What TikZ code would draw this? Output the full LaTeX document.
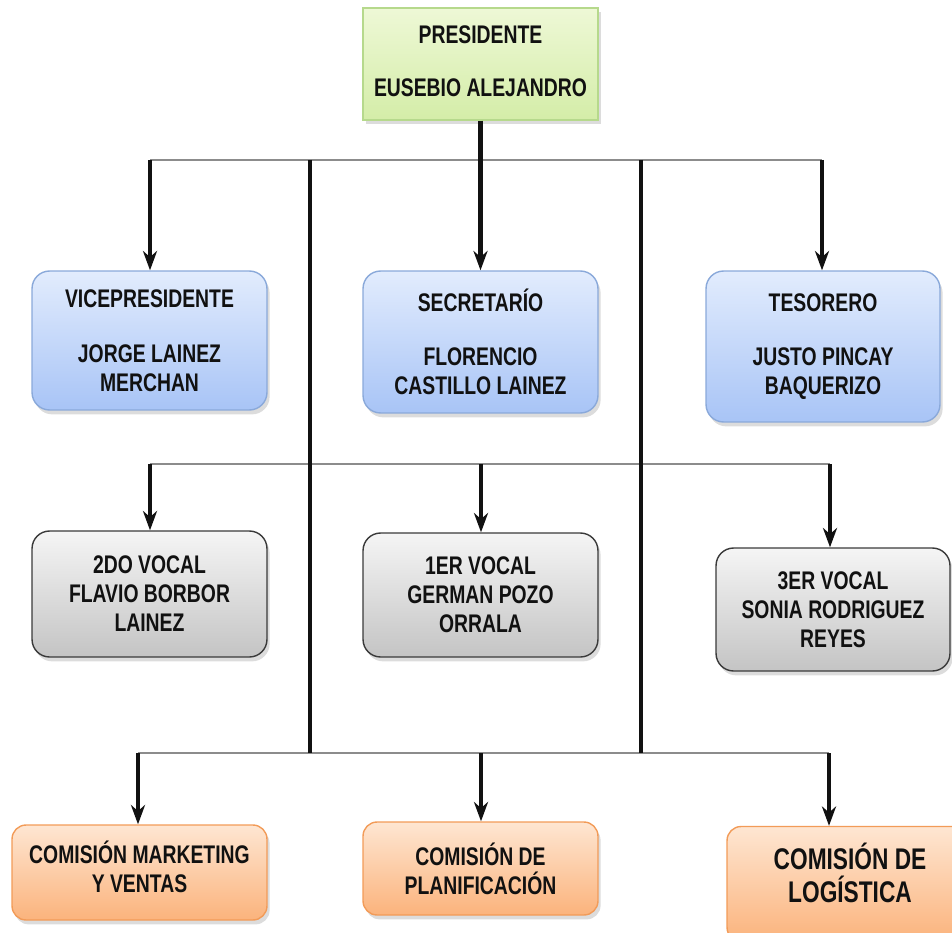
\documentclass[tikz,border=0pt]{standalone}
\usepackage{fontspec}
\setmainfont{Liberation Sans}[FakeStretch=0.76]
\usetikzlibrary{arrows.meta,shadows,calc}
\definecolor{ink}{HTML}{111111}
\definecolor{wire}{HTML}{8C8C8C}
\definecolor{greentop}{HTML}{EEF8D6}
\definecolor{greenbot}{HTML}{D4EDA8}
\definecolor{greenline}{HTML}{B6D98C}
\definecolor{bluetop}{HTML}{E2ECFD}
\definecolor{bluebot}{HTML}{A8C4F6}
\definecolor{blueline}{HTML}{8AA9DA}
\definecolor{greytop}{HTML}{F5F5F5}
\definecolor{greybot}{HTML}{C4C4C4}
\definecolor{greyline}{HTML}{3A3A3A}
\definecolor{orangetop}{HTML}{FEE6D2}
\definecolor{orangebot}{HTML}{FBB37C}
\definecolor{orangeline}{HTML}{F29B58}
\tikzset{
  box/.style={top color=#1top,bottom color=#1bot,draw=#1line,line width=0.8pt,
              rounded corners=10pt,align=center,text=ink,inner sep=2pt,
              font=\bfseries\fontsize{14.5}{16.5}\selectfont,
              drop shadow={shadow xshift=1.5pt,shadow yshift=-2.5pt,opacity=0.28}},
  box/.default=blue,
  head/.style={box=green,rounded corners=0pt},
  wire/.style={draw=wire,line width=1.6pt},
  trunk/.style={draw=ink,line width=2.3pt},
  arrow/.style={-{Stealth[length=11pt,width=8pt,inset=3.5pt]},line width=2.3pt,color=ink},
}
\begin{document}
\begin{tikzpicture}[x=0.02cm,y=-0.02cm]
    \useasboundingbox (0,0) rectangle (952,932);
    % Head
    \node[head,minimum width=4.70cm,minimum height=2.24cm,text depth=0.12cm] (pres) at (480.5,64)
      {PRESIDENTE\\[14pt]EUSEBIO ALEJANDRO};
    % Officers
    \node[box=blue,minimum width=4.70cm,minimum height=2.78cm] (vice) at (149.5,340.5)
      {VICEPRESIDENTE\\[14.5pt]JORGE LAINEZ\\MERCHAN};
    \node[box=blue,minimum width=4.70cm,minimum height=2.84cm] (secr) at (480.5,342)
      {SECRETARÍO\\[14.5pt]FLORENCIO\\CASTILLO LAINEZ};
    \node[box=blue,minimum width=4.68cm,minimum height=3.02cm] (teso) at (823,346.5)
      {TESORERO\\[14.5pt]JUSTO PINCAY\\BAQUERIZO};
    % Vocals
    \node[box=grey,minimum width=4.70cm,minimum height=2.52cm] (voc2) at (149.5,594)
      {2DO VOCAL\\FLAVIO BORBOR\\LAINEZ};
    \node[box=grey,minimum width=4.70cm,minimum height=2.48cm] (voc1) at (480.5,595)
      {1ER VOCAL\\GERMAN POZO\\ORRALA};
    \node[box=grey,minimum width=4.68cm,minimum height=2.46cm] (voc3) at (833,609.5)
      {3ER VOCAL\\SONIA RODRIGUEZ\\REYES};
    % Commissions
    \node[box=orange,rounded corners=8pt,minimum width=5.10cm,minimum height=1.90cm,text depth=0.25cm] (com1) at (139.5,872.5)
      {COMISIÓN MARKETING\\Y VENTAS};
    \node[box=orange,rounded corners=8pt,minimum width=4.70cm,minimum height=1.86cm] (com2) at (480.5,868.5)
      {COMISIÓN DE\\PLANIFICACIÓN};
    \node[box=orange,rounded corners=8pt,minimum width=4.92cm,minimum height=2.30cm,
          font=\bfseries\fontsize{17}{18.5}\selectfont,text depth=0.45cm] (com3) at (850,884)
      {COMISIÓN DE\\LOGÍSTICA};
    % Wiring
    \coordinate (t1) at (150,160); \coordinate (t2) at (822,160);
    \coordinate (m1) at (150,464); \coordinate (m2) at (481,464); \coordinate (m3) at (830,464);
    \coordinate (b1) at (138,753); \coordinate (b2) at (481,753); \coordinate (b3) at (829,753);
    \coordinate (s1) at (310,160); \coordinate (s2) at (641,160);
    \coordinate (e1) at (310,753); \coordinate (e2) at (641,753);
    \draw[wire] (t1) -- (t2);
    \draw[wire] (m1) -- (m3);
    \draw[wire] (b1) -- (b3);
    \draw[trunk] (s1) -- (e1);
    \draw[trunk] (s2) -- (e2);
    \draw[arrow] (pres) -- (secr);
    \foreach \c/\n in {t1/vice,t2/teso,m1/voc2,m2/voc1,m3/voc3,b1/com1,b2/com2,b3/com3}{
      \draw[arrow] (\c) -- (\c |- \n.north);
    }
  \end{tikzpicture}
\end{document}
